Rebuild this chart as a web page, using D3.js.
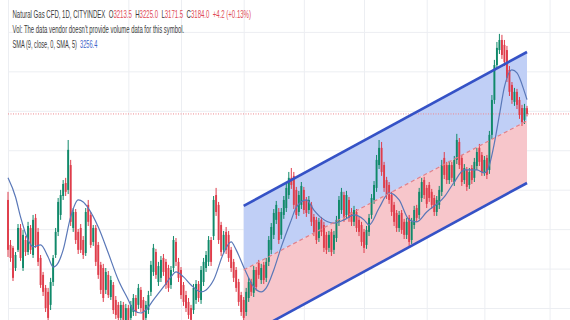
<!DOCTYPE html>
<html><head><meta charset="utf-8">
<script src="https://cdn.jsdelivr.net/npm/d3@7"></script>
<style>html,body{margin:0;padding:0;background:#fff;} svg{display:block}</style>
</head><body><svg id="c" width="570" height="320"></svg>
<script>
// ---- data (daily candles, index = bar number) ----
const opens = [
2748,2520,2505,2403,2495,2606,2403,2545,2484,2606,
2469,2657,2586,2454,2368,2302,2282,2216,2332,2469,
2586,2672,2768,2834,2799,2925,2606,2687,2586,2606,
2545,2479,2723,2672,2535,2606,2520,2419,2403,2292,
2368,2256,2317,2241,2216,2150,2216,2130,2200,2150,
2180,2251,2216,2292,2241,2150,2190,2282,2383,2484,
2332,2353,2454,2434,2403,2317,2403,2535,2434,2393,
2317,2266,2231,2200,2190,2241,2322,2241,2332,2403,
2434,2545,2565,2773,2723,2621,2495,2586,2571,2495,
2434,2393,2332,2266,2241,2180,2251,2332,2277,2393,
2429,2342,2419,2353,2434,2495,2571,2647,2687,2571,
2672,2707,2773,2860,2870,2799,2687,2723,2799,2748,
2697,2723,2662,2647,2555,2647,2621,2571,2505,2586,
2495,2555,2637,2697,2773,2672,2748,2687,2637,2687,
2647,2621,2586,2520,2586,2672,2748,2809,2925,3012,
2925,2849,2824,2773,2723,2682,2606,2682,2637,2571,
2657,2545,2621,2707,2672,2758,2849,2809,2824,2789,
2758,2687,2723,2789,2961,2925,2849,2925,2839,2951,
3042,2961,2849,2900,2824,2910,2860,2920,3012,2976,
2890,2961,2900,3078,3255,3432,3508,3559,3534,3508,
3407,3331,3245,3296,3255,3214,3154,3213.5];
const highs = [
2789,2545,2515,2484,2626,2626,2596,2565,2637,2621,
2672,2677,2606,2469,2383,2317,2302,2353,2469,2606,
2758,2799,2849,2860,3052,2951,2707,2702,2601,2626,
2565,2707,2748,2687,2621,2621,2535,2434,2424,2403,
2388,2363,2332,2261,2231,2236,2231,2221,2216,2236,
2271,2266,2322,2307,2256,2236,2287,2439,2525,2500,
2434,2464,2474,2449,2419,2413,2565,2555,2454,2408,
2332,2287,2251,2216,2322,2342,2337,2413,2454,2489,
2565,2560,2768,2809,2738,2637,2591,2611,2591,2510,
2449,2408,2348,2282,2256,2302,2353,2348,2413,2408,
2444,2424,2434,2454,2565,2631,2702,2743,2707,2707,
2768,2829,2890,2910,2890,2814,2794,2839,2814,2763,
2768,2738,2677,2662,2657,2662,2637,2586,2591,2601,
2591,2667,2768,2809,2789,2794,2763,2707,2718,2702,
2662,2637,2601,2616,2677,2778,2844,2976,3052,3042,
2941,2865,2839,2789,2738,2697,2692,2697,2652,2657,
2672,2657,2718,2723,2809,2860,2865,2824,2839,2804,
2773,2768,2819,2951,2991,2941,2946,2941,2971,3083,
3062,2976,2930,2915,2910,2925,2961,3012,3032,2991,
2971,2976,3098,3280,3458,3549,3590,3585,3559,3529,
3427,3346,3316,3311,3270,3230,3235,3225.0];
const lows = [
2459,2434,2337,2388,2484,2439,2388,2464,2469,2474,
2454,2505,2413,2302,2261,2180,2109,2190,2312,2454,
2565,2647,2748,2768,2778,2616,2586,2525,2474,2479,
2449,2464,2616,2505,2515,2413,2348,2271,2231,2271,
2251,2241,2170,2145,2124,2130,2109,2109,2099,2130,
2160,2160,2195,2180,2109,2124,2170,2261,2363,2348,
2312,2332,2363,2297,2282,2297,2383,2413,2332,2246,
2211,2180,2145,2109,2170,2221,2231,2221,2312,2383,
2413,2413,2545,2667,2525,2464,2474,2474,2434,2383,
2332,2282,2211,2160,2119,2160,2231,2261,2256,2287,
2348,2322,2322,2332,2413,2474,2550,2626,2525,2550,
2652,2687,2753,2804,2702,2652,2667,2702,2677,2662,
2677,2616,2565,2525,2535,2565,2484,2474,2484,2464,
2474,2535,2616,2677,2637,2652,2637,2616,2616,2586,
2565,2515,2479,2500,2565,2652,2728,2789,2905,2870,
2789,2753,2728,2667,2616,2586,2586,2576,2550,2550,
2510,2525,2601,2637,2652,2738,2753,2707,2738,2702,
2667,2667,2702,2768,2854,2829,2829,2839,2819,2930,
2905,2819,2829,2794,2804,2829,2839,2900,2920,2870,
2870,2854,2880,3057,3235,3412,3488,3463,3427,3346,
3275,3235,3225,3209,3159,3123,3133,3171.5];
const closes = [
2495,2454,2353,2469,2606,2454,2571,2484,2616,2495,
2647,2520,2434,2317,2282,2200,2150,2332,2454,2586,
2738,2773,2829,2789,3002,2637,2687,2545,2495,2495,
2469,2687,2637,2520,2606,2434,2368,2292,2251,2383,
2266,2342,2190,2165,2150,2216,2140,2200,2130,2216,
2251,2180,2302,2200,2140,2216,2266,2419,2505,2368,
2413,2444,2383,2317,2302,2393,2545,2434,2353,2266,
2231,2200,2165,2140,2302,2322,2251,2393,2434,2469,
2545,2434,2748,2687,2545,2484,2571,2495,2454,2403,
2353,2302,2231,2180,2150,2282,2332,2282,2393,2307,
2368,2403,2342,2434,2545,2611,2682,2723,2545,2687,
2748,2809,2860,2824,2723,2672,2773,2819,2697,2682,
2748,2637,2586,2545,2637,2586,2505,2495,2571,2484,
2571,2647,2748,2789,2657,2773,2657,2637,2697,2606,
2586,2535,2505,2596,2657,2758,2824,2951,3012,2890,
2809,2773,2748,2687,2637,2606,2672,2596,2571,2637,
2535,2637,2697,2657,2789,2839,2773,2728,2758,2723,
2687,2748,2799,2925,2875,2849,2925,2860,2951,3052,
2925,2839,2910,2814,2890,2849,2941,2991,2941,2890,
2951,2875,3078,3255,3432,3519,3559,3483,3448,3367,
3296,3255,3296,3230,3179,3143,3214,3184.0];

// SMA(9) readings at selected bars
const smaBars = [0,3,5,8,10,13,16,18,20,22,25,28,30,32,36,40,44,48,50,53,55,58,62,65,67,70,73,77,79,82,86,89,91,94,98,101,103,106,109,113,115,119,122,125,130,134,138,142,144,148,152,156,160,163,167,174,178,182,187,190,192,194,196,198,201,203,206,207];
const smaValues = [2860,2763,2662,2545,2510,2520,2459,2408,2429,2495,2662,2748,2738,2707,2611,2479,2342,2241,2190,2175,2190,2241,2307,2358,2383,2358,2317,2282,2292,2342,2479,2535,2495,2408,2307,2282,2302,2393,2510,2647,2712,2748,2697,2657,2631,2647,2672,2647,2621,2707,2784,2748,2647,2637,2687,2763,2839,2900,2900,2885,2925,3037,3179,3321,3407,3392,3296,3256.4];

// parallel channel anchors (bar, price)
const channelBars = [94, 207];
const channelUpper = [2718, 3498];
const channelMid = [2393, 3149];
const channelLower = [2053, 2834];

// grid
const gridPrices = [2200, 2400, 2600, 2800, 3000, 3200, 3400, 3600];
const gridBars = [0, 48, 69, 94, 118, 142, 167, 190, 216];
const lastPrice = 3184.0;

// legend texts
const titleText = "Natural Gas CFD, 1D, CITYINDEX";
const ohlcLabels = ["O", "H", "L", "C"];
const ohlcValues = ["3213.5", "3225.0", "3171.5", "3184.0"];
const changeText = "+4.2 (+0.13%)";
const volText = "Vol: The data vendor doesn't provide volume data for this symbol.";
const smaLabel = "SMA (9, close, 0, SMA, 5)";
const smaLast = "3256.4";

// ---- drawing ----
const W = 570, H = 320;
const svg = d3.select("#c");
const x = d3.scaleLinear().domain([0, 207]).range([8, 527]);
const y = d3.scaleLinear().domain([2139.4, 3761.7]).range([H, 0]);
const step = x(1) - x(0);

// grid
const gy = svg.append("g").attr("transform", "translate(8,0)")
  .call(d3.axisRight(y).tickValues(gridPrices).tickSize(W - 8).tickFormat(""));
gy.select(".domain").remove();
gy.selectAll("line").attr("stroke", "#eceef2").attr("stroke-width", 1);
const gx = svg.append("g")
  .call(d3.axisBottom(x).tickValues(gridBars).tickSize(H).tickFormat(""));
gx.select(".domain").remove();
gx.selectAll("line").attr("stroke", "#eceef2").attr("stroke-width", 1);

// channel fills
const idx = [0, 1];
svg.append("path").datum(idx)
  .attr("d", d3.area().x(k => x(channelBars[k])).y0(k => y(channelMid[k])).y1(k => y(channelUpper[k])))
  .attr("fill", "#c0cff6");
svg.append("path").datum(idx)
  .attr("d", d3.area().x(k => x(channelBars[k])).y0(k => y(channelLower[k])).y1(k => y(channelMid[k])))
  .attr("fill", "#f7c6cb");

// last price line
svg.append("line").attr("x1", 8).attr("x2", W)
  .attr("y1", y(lastPrice)).attr("y2", y(lastPrice))
  .attr("stroke", "#ee8a90").attr("stroke-width", 1).attr("stroke-dasharray", "1,1.5");

// candles
const green = "#10896a", red = "#df3d4b";
const bars = d3.range(closes.length);
const cg = svg.append("g");
cg.selectAll("line.w").data(bars).join("line")
  .attr("x1", i => x(i)).attr("x2", i => x(i))
  .attr("y1", i => y(highs[i])).attr("y2", i => y(lows[i]))
  .attr("stroke", i => closes[i] >= opens[i] ? green : red).attr("stroke-width", 1);
cg.selectAll("rect").data(bars).join("rect")
  .attr("x", i => x(i) - step * 0.38).attr("width", step * 0.76)
  .attr("y", i => y(Math.max(opens[i], closes[i])))
  .attr("height", i => Math.max(1, Math.abs(y(opens[i]) - y(closes[i]))))
  .attr("fill", i => closes[i] >= opens[i] ? green : red);

// SMA line
svg.append("path").datum(d3.range(smaBars.length))
  .attr("d", d3.line().x(k => x(smaBars[k])).y(k => y(smaValues[k])).curve(d3.curveMonotoneX))
  .attr("fill", "none").attr("stroke", "#5a78b8").attr("stroke-width", 1.2);

// channel lines
function chLine(vals, color, w, dash) {
  svg.append("path").datum(idx)
    .attr("d", d3.line().x(k => x(channelBars[k])).y(k => y(vals[k])))
    .attr("fill", "none").attr("stroke", color).attr("stroke-width", w)
    .attr("stroke-dasharray", dash || null);
}
chLine(channelMid, "#e0808a", 1.2, "4,3");
chLine(channelUpper, "#3552c6", 2.6);
chLine(channelLower, "#3552c6", 2.6);

// legend: one text element per line, horizontally condensed by a group scale
const font = "'Liberation Sans', Arial, sans-serif";
const dark = "#3a3a3a", valRed = "#e04a55", valBlue = "#3d63c9";
function line(yy, len, parts) {
  const g = svg.append("g").attr("transform", `translate(12.5,${yy})`);
  const t = g.append("text").attr("x", 0).attr("y", 0).attr("font-family", font)
    .attr("font-size", 10.5).style("white-space", "pre");
  parts.forEach(p => t.append("tspan").attr("fill", p[1]).text(p[0]));
  const w = t.node().getComputedTextLength();
  g.attr("transform", `translate(12.5,${yy}) scale(${len / w},1)`);
}
const l1 = [[titleText + "  ", dark]];
ohlcLabels.forEach((l, k) => { l1.push([l, dark]); l1.push([ohlcValues[k] + "  ", valRed]); });
l1.push([changeText, valRed]);
line(17.5, 239, l1);
line(33, 172, [[volText, dark]]);
line(47.5, 85, [[smaLabel + "  ", dark], [smaLast, valBlue]]);
</script>
</body></html>
